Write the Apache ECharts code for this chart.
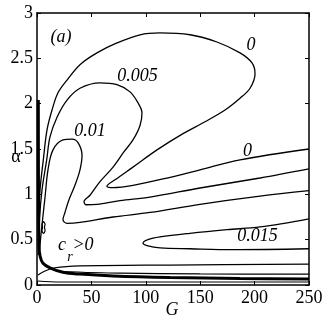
<!DOCTYPE html>
<html>
<head>
<meta charset="utf-8">
<script src="https://cdn.jsdelivr.net/npm/echarts@6/dist/echarts.min.js"></script>
<style>
html,body{margin:0;padding:0;background:#fff;}
#c{width:327px;height:326px;}
</style>
</head>
<body>
<div id="c"></div>
<script>
// Axis ticks
const xTicks = [0, 50, 100, 150, 200, 250];
const yTicks = [0, 0.5, 1, 1.5, 2, 2.5, 3];

// Contour lines [G, alpha]
const contour0 = [[1.2,0.33],[1.7,0.72],[2.8,1.05],[5.8,1.38],[9.2,1.71],[13.8,1.93],[19.3,2.12],[27.6,2.26],[39.5,2.43],[55.1,2.56],[73.5,2.67],[94.7,2.76],[113.1,2.78],[140.6,2.76],[165.4,2.68],[186.6,2.56],[197.6,2.45],[200.4,2.33],[195.8,2.17],[186.6,2.06],[172.8,1.93],[154.4,1.80],[134.2,1.67],[110.3,1.49],[88.2,1.30],[71.7,1.16],[64.3,1.09],[69.9,1.075],[88.2,1.10],[119.5,1.18],[149.8,1.27],[186.6,1.38],[250,1.50]];
const contour005 = [[1.4,0.33],[2.3,0.72],[4.6,1.05],[8.9,1.38],[11.9,1.63],[18.4,1.85],[27.6,2.04],[39.5,2.17],[57.9,2.23],[73.5,2.21],[85.5,2.13],[92.8,2.01],[96.5,1.90],[94.7,1.76],[88.2,1.60],[80.0,1.47],[69.9,1.30],[57.9,1.14],[48.7,0.99],[43.2,0.92],[45.0,0.885],[55.1,0.89],[76.3,0.93],[103.9,0.97],[149.8,1.07],[205,1.18],[250,1.28]];
const contour01 = [[1.8,0.33],[3.2,0.50],[5.1,0.72],[7.4,0.97],[10.1,1.27],[14.7,1.49],[23.9,1.60],[32.2,1.61],[37.7,1.57],[41.4,1.43],[39.5,1.27],[34.9,1.10],[29.4,0.94],[25.7,0.80],[23.9,0.72],[27.6,0.68],[39.5,0.69],[69.9,0.75],[103.9,0.80],[149.8,0.89],[205,0.98],[250,1.04]];
const contour015 = [[250,0.73],[205,0.64],[174.6,0.61],[140.6,0.57],[113.1,0.53],[102,0.50],[97.4,0.46],[101.1,0.435],[113.1,0.41],[140.6,0.40],[180.1,0.39],[250,0.40]];
const smallLoop = [[5.9,0.70],[7.4,0.67],[6.9,0.64],[7.4,0.60],[5.9,0.57],[4.6,0.60],[5.1,0.64],[4.6,0.67],[5.9,0.70]];
const crZero = [[1.2,2.04],[1.4,0.94],[1.8,0.44],[2.8,0.32],[5.5,0.24],[11.9,0.19],[23.9,0.14],[39.5,0.12],[69.9,0.10],[122.2,0.083],[186.6,0.072],[250,0.066]];
const lowLineA = [[0.9,0.11],[7.4,0.155],[16.5,0.19],[39.5,0.21],[122,0.22],[250,0.23]];
const lowLineB = [[0.9,0.044],[21,0.033],[120,0.033],[250,0.033]];
const lowLineD = [[21,0.149],[76,0.13],[150,0.122],[250,0.12]];

const chart = echarts.init(document.getElementById('c'), null, {renderer:'canvas'});
const serif = 'Liberation Serif, Times New Roman, serif';

function axisX(pos, show) {
  return {
    type:'value', min:xTicks[0], max:xTicks[xTicks.length-1], interval:50, position:pos,
    axisLine:{show:true, onZero:false, lineStyle:{color:'#000', width:1.5}},
    axisTick:{show:true, inside:true, length:4, lineStyle:{color:'#000', width:1}},
    axisLabel:{show:show, color:'#000', fontFamily:serif, fontSize:18, margin:4},
    splitLine:{show:false}
  };
}
function axisY(pos, show) {
  return {
    type:'value', min:yTicks[0], max:yTicks[yTicks.length-1], interval:0.5, position:pos,
    axisLine:{show:true, onZero:false, lineStyle:{color:'#000', width:1.5}},
    axisTick:{show:true, inside:true, length:4, lineStyle:{color:'#000', width:1}},
    axisLabel:{show:show, color:'#000', fontFamily:serif, fontSize:18, margin:4},
    splitLine:{show:false}
  };
}

function line(data, width) {
  return {
    type:'line', data:data, xAxisIndex:0, yAxisIndex:0, showSymbol:false, symbol:'none',
    smooth:0.35, silent:true, animation:false,
    lineStyle:{color:'#000', width:width}
  };
}

const labelStyle = (t, x, y, size, italic) => ({
  type:'text', x:x, y:y, silent:true,
  style:{text:t, font:(italic?'italic ':'') + size + 'px ' + serif, fill:'#000', textAlign:'center', textVerticalAlign:'middle'}
});

chart.setOption({
  backgroundColor:'#fff',
  animation:false,
  grid:{left:37, right:18, top:13, bottom:41, containLabel:false},
  xAxis:[axisX('bottom', true), axisX('top', false)],
  yAxis:[axisY('left', true), axisY('right', false)],
  series:[
    line(contour0, 1.3),
    line(contour005, 1.3),
    line(contour01, 1.3),
    line(contour015, 1.3),
    line(smallLoop, 1.2),
    line(lowLineA, 1.2),
    line(lowLineB, 1.2),
    line(lowLineD, 1.2),
    line(crZero, 3)
  ],
  graphic:[
    labelStyle('(a)', 61, 37, 18, true),
    labelStyle('0', 251, 45, 18, true),
    labelStyle('0.005', 137.5, 76, 18, true),
    labelStyle('0.01', 90, 131.5, 18, true),
    labelStyle('0', 247.5, 151, 18, true),
    labelStyle('0.015', 257.5, 236.5, 18, true),
    labelStyle('c', 62, 245, 18, true),
    labelStyle('r', 70, 257, 14, true),
    labelStyle('>0', 83, 245, 18, true),
    labelStyle('α', 16, 157, 18, false),
    labelStyle('G', 172, 310, 18, true)
  ]
});
</script>
</body>
</html>
